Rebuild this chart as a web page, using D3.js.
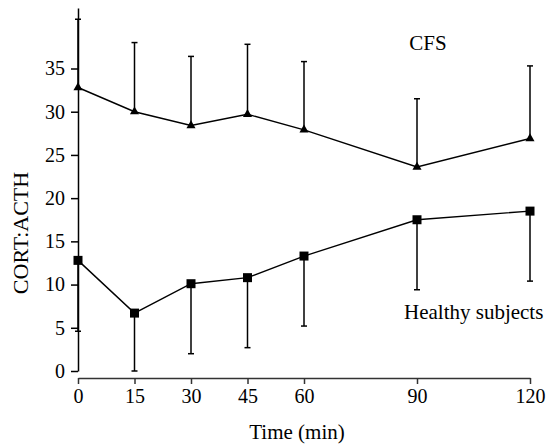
<!DOCTYPE html>
<html>
<head>
<meta charset="utf-8">
<script src="https://cdn.jsdelivr.net/npm/d3@7"></script>
<style>
  body { margin: 0; background: #fff; }
  text { font-family: "Liberation Serif", "Times New Roman", serif; fill: #000; }
</style>
</head>
<body>
<div id="chart"></div>
<script>
// data
var times = [0, 15, 30, 45, 60, 90, 120];
var cfsMean = [32.8, 30.0, 28.4, 29.7, 27.9, 23.6, 26.9];
var cfsSd = [7.9, 8.0, 8.0, 8.1, 7.9, 7.9, 8.4];
var healthyMean = [12.8, 6.7, 10.1, 10.8, 13.3, 17.5, 18.5];
var healthySd = [8.2, 6.7, 8.1, 8.1, 8.1, 8.1, 8.1];
var yTicks = [0, 5, 10, 15, 20, 25, 30, 35];

var svgWidth = 547;
var svgHeight = 446;

var svg = d3.select("#chart")
  .append("svg")
  .attr("width", svgWidth)
  .attr("height", svgHeight);

var x = d3.scaleLinear().domain([0, 120]).range([78, 530]);
var y = d3.scaleLinear().domain([0, 42]).range([371, 8]);

// x axis, a little below zero
var xAxis = svg.append("g")
  .attr("transform", "translate(0,378)")
  .call(d3.axisBottom(x).tickValues(times).tickSize(6).tickSizeOuter(0).tickPadding(5));
xAxis.select(".domain").attr("stroke", "#333").attr("stroke-width", 1.6);
xAxis.selectAll(".tick line").attr("stroke", "#333").attr("stroke-width", 1.5);
xAxis.selectAll(".tick text")
  .attr("font-family", "Liberation Serif")
  .attr("font-size", 20)
  .attr("fill", "#000");

// y axis
var yAxis = svg.append("g")
  .attr("transform", "translate(78,0)")
  .call(d3.axisLeft(y).tickValues(yTicks).tickSize(7).tickSizeOuter(0).tickPadding(6));
yAxis.select(".domain").attr("stroke", "#000").attr("stroke-width", 1.5);
yAxis.selectAll(".tick line").attr("stroke", "#000").attr("stroke-width", 1.5);
yAxis.selectAll(".tick text")
  .attr("font-family", "Liberation Serif")
  .attr("font-size", 20)
  .attr("fill", "#000");

var cfs = times.map(function(t, i) { return { t: t, m: cfsMean[i], e: cfsMean[i] + cfsSd[i] }; });
var healthy = times.map(function(t, i) { return { t: t, m: healthyMean[i], e: Math.max(0, healthyMean[i] - healthySd[i]) }; });

function drawSeries(data, symbol, size) {
  var g = svg.append("g");

  // error bars (one sided)
  g.selectAll(".bar")
    .data(data)
    .enter()
    .append("line")
    .attr("x1", d => x(d.t))
    .attr("x2", d => x(d.t))
    .attr("y1", d => y(d.m))
    .attr("y2", d => y(d.e))
    .attr("stroke", "#000")
    .attr("stroke-width", 1.5);

  g.selectAll(".cap")
    .data(data)
    .enter()
    .append("line")
    .attr("x1", d => x(d.t) - 3)
    .attr("x2", d => x(d.t) + 3)
    .attr("y1", d => y(d.e))
    .attr("y2", d => y(d.e))
    .attr("stroke", "#000")
    .attr("stroke-width", 1.5);

  var line = d3.line().x(d => x(d.t)).y(d => y(d.m));
  g.append("path")
    .datum(data)
    .attr("d", line)
    .attr("fill", "none")
    .attr("stroke", "#000")
    .attr("stroke-width", 1.4);

  g.selectAll(".pt")
    .data(data)
    .enter()
    .append("path")
    .attr("transform", d => `translate(${x(d.t)},${y(d.m)})`)
    .attr("d", d3.symbol().type(symbol).size(size))
    .attr("fill", "#000");
}

drawSeries(cfs, d3.symbolTriangle, 36);
drawSeries(healthy, d3.symbolSquare, 81);

// series labels
svg.append("text")
  .attr("x", 428)
  .attr("y", 50)
  .attr("text-anchor", "middle")
  .attr("font-size", 21)
  .text("CFS");

svg.append("text")
  .attr("x", 404)
  .attr("y", 319)
  .attr("font-size", 21)
  .text("Healthy subjects");

// axis titles
svg.append("text")
  .attr("x", 297)
  .attr("y", 439)
  .attr("text-anchor", "middle")
  .attr("font-size", 21)
  .text("Time (min)");

svg.append("text")
  .attr("transform", "translate(28,233) rotate(-90)")
  .attr("text-anchor", "middle")
  .attr("font-size", 22)
  .text("CORT:ACTH");
</script>
</body>
</html>
